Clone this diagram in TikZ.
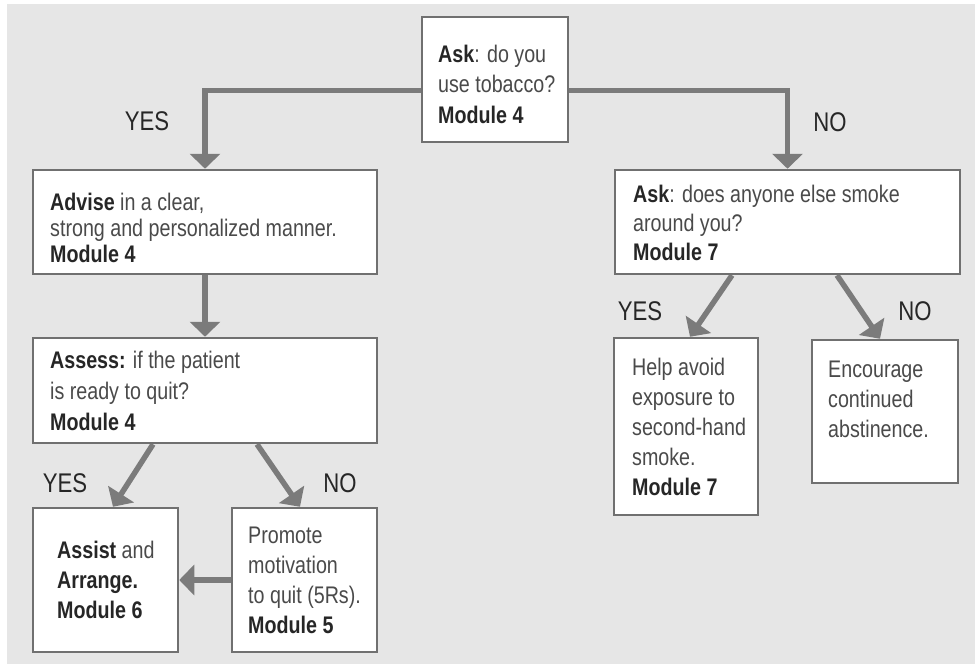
\documentclass[tikz,border=0pt]{standalone}
\usepackage{fontspec}
\setmainfont{Liberation Sans}[FakeStretch=0.82]
\usetikzlibrary{arrows.meta,calc}
\definecolor{bgc}{HTML}{E6E6E6}
\definecolor{edgec}{HTML}{707070}
\definecolor{arrowc}{HTML}{7B7B7B}
\definecolor{txtc}{HTML}{4A4A4A}
\definecolor{txtbc}{HTML}{262626}
\newcommand\kw[1]{{\bfseries\color{txtbc}#1}}
\newcommand\tblock[2]{\parbox[t]{340pt}{\fontsize{24}{#1}\selectfont\raggedright\leavevmode #2}}
\pgfdeclarelayer{back}
\pgfsetlayers{back,main}
\begin{document}
\begin{tikzpicture}[x=1pt,y=-1pt,
  box/.style={draw=edgec,line width=2.5pt,fill=white,inner sep=0pt},
  txtnode/.style={anchor=base west,inner sep=0pt,text=txtc},
  lbl/.style={anchor=base,inner sep=0pt,text=txtbc,font=\fontsize{27}{27}\selectfont},
  arr/.style={draw=arrowc,line width=5.5pt,-{Triangle[length=15pt,width=30pt]}}
]
\useasboundingbox (0,0) rectangle (975,664);

% boxes
\node[box,minimum width=146pt,minimum height=125pt] (ask) at (495,79.5) {};
\node[box,minimum width=344pt,minimum height=104pt] (advise) at (205,222) {};
\node[box,minimum width=344pt,minimum height=105pt] (assess) at (205,390.5) {};
\node[box,minimum width=145pt,minimum height=144pt] (assist) at (105.5,580) {};
\node[box,minimum width=145pt,minimum height=144pt] (promote) at (304.5,580) {};
\node[box,minimum width=345pt,minimum height=104pt] (asktwo) at (787.5,222) {};
\node[box,minimum width=144pt,minimum height=177pt] (help) at (686,426.5) {};
\node[box,minimum width=146pt,minimum height=143pt] (enc) at (885,411.5) {};

% texts
\node[txtnode] (askT) at (438,62) {\tblock{30.5}{\kw{Ask}: do you\\use tobacco?\\\kw{Module 4}}};
\node[txtnode] (adviseT) at (50,210) {\tblock{26}{\kw{Advise} in a clear,\\strong and personalized manner.\\\kw{Module 4}}};
\node[txtnode] (assessT) at (50,368) {\tblock{31}{\kw{Assess:} if the patient\\is ready to quit?\\\kw{Module 4}}};
\node[txtnode] (assistT) at (57,558) {\tblock{30}{\kw{Assist} and\\\kw{Arrange.}\\\kw{Module 6}}};
\node[txtnode] (promoteT) at (248,543) {\tblock{30}{Promote\\motivation\\to quit (5Rs).\\\kw{Module 5}}};
\node[txtnode] (asktwoT) at (633,202) {\tblock{29}{\kw{Ask}: does anyone else smoke\\around you?\\\kw{Module 7}}};
\node[txtnode] (helpT) at (632,375) {\tblock{30}{Help avoid\\exposure to\\second-hand\\smoke.\\\kw{Module 7}}};
\node[txtnode] (encT) at (828,377) {\tblock{30}{Encourage\\continued\\abstinence.}};

% labels
\node[lbl] (yesA) at (147,130) {YES};
\node[lbl] (noA) at (830,131) {NO};
\node[lbl] (yesB) at (65,492) {YES};
\node[lbl] (noB) at (340,492) {NO};
\node[lbl] (yesC) at (640,320) {YES};
\node[lbl] (noC) at (915,320) {NO};

\begin{pgfonlayer}{back}
\fill[bgc] (7,4) rectangle (975,664);
\draw[arr] ([yshift=-11pt]ask.west) -| (advise.north);
\draw[arr] ([yshift=-11pt]ask.east) -| (asktwo.north);
\draw[arr] (advise.south) -- (assess.north);
\draw[arr] ([xshift=-52pt]assess.south) -- ([xshift=7.5pt]assist.north);
\draw[arr] ([xshift=52pt]assess.south) -- ([xshift=-4.5pt]promote.north);
\draw[arr] (promote.west) -- (assist.east);
\draw[arr] ([xshift=-55.5pt]asktwo.south) -- ([xshift=4pt]help.north);
\draw[arr] ([xshift=49.5pt]asktwo.south) -- ([xshift=-5pt]enc.north);
\end{pgfonlayer}
\end{tikzpicture}
\end{document}
